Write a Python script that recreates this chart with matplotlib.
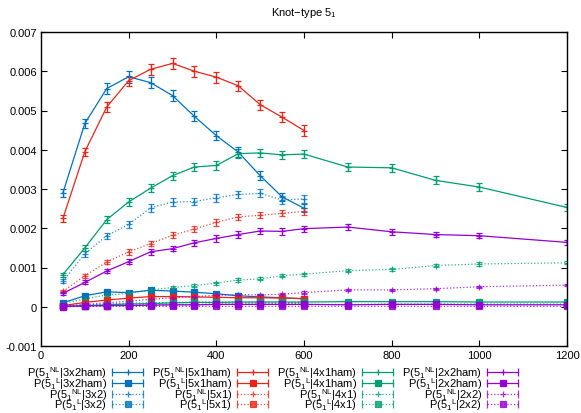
import numpy as np
import matplotlib
matplotlib.use("Agg")
import matplotlib.pyplot as plt

plt.rcParams['font.family'] = ['Liberation Sans', 'DejaVu Sans']
plt.rcParams['mathtext.fontset'] = 'custom'
plt.rcParams['mathtext.rm'] = 'Liberation Sans'
plt.rcParams['mathtext.default'] = 'regular'
plt.rcParams['font.size'] = 8

# chain lengths
n_short = [50, 100, 150, 200, 250, 300, 350, 400, 450, 500, 550, 600]
n_long = [50, 100, 150, 200, 250, 300, 350, 400, 450, 500, 550, 600,
          700, 800, 900, 1000, 1200]

# 3x2 confinement
p_nl_3x2ham = [0.0029, 0.00467, 0.00556, 0.00586, 0.00571, 0.00538,
               0.00485, 0.00436, 0.00394, 0.00334, 0.0028, 0.00251]
e_nl_3x2ham = [0.0001, 0.00012, 0.00013, 0.00015, 0.00014, 0.00013,
               0.00013, 0.00012, 0.00013, 0.00012, 0.00011, 0.0001]
p_l_3x2ham = [0.0001, 0.00028, 0.00038, 0.00036, 0.00042, 0.0004,
              0.00037, 0.00033, 0.00028, 0.00025, 0.00023, 0.0002]
e_l_3x2ham = [0.00002, 0.00003, 0.00003, 0.00003, 0.00003, 0.00003,
              0.00003, 0.00003, 0.00003, 0.00003, 0.00003, 0.00003]
p_nl_3x2 = [0.00065, 0.00135, 0.00181, 0.0021, 0.00252, 0.00267,
            0.00268, 0.00278, 0.00286, 0.00289, 0.00272, 0.00275]
e_nl_3x2 = [0.00005, 0.00007, 0.00008, 0.00009, 0.0001, 0.0001,
            0.0001, 0.0001, 0.0001, 0.0001, 0.0001, 0.0001]
p_l_3x2 = [0.00001, 0.00004, 0.00007, 0.00009, 0.0001, 0.00011,
           0.00012, 0.00012, 0.00012, 0.00012, 0.00012, 0.00011]
e_l_3x2 = [0.00001, 0.00001, 0.00002, 0.00002, 0.00002, 0.00002,
           0.00002, 0.00002, 0.00002, 0.00002, 0.00002, 0.00002]

# 5x1 confinement
p_nl_5x1ham = [0.00225, 0.00395, 0.00509, 0.00576, 0.00605, 0.0062,
               0.006, 0.00585, 0.00563, 0.00515, 0.00483, 0.00449]
e_nl_5x1ham = [0.00008, 0.0001, 0.00012, 0.00013, 0.00014, 0.00015,
               0.00014, 0.00014, 0.00013, 0.00013, 0.00013, 0.00013]
p_l_5x1ham = [0.00003, 0.00011, 0.00017, 0.00022, 0.00026, 0.00026,
              0.00025, 0.00024, 0.00023, 0.00023, 0.00022, 0.00021]
e_l_5x1ham = [0.00001, 0.00002, 0.00002, 0.00003, 0.00003, 0.00003,
              0.00003, 0.00003, 0.00003, 0.00003, 0.00003, 0.00003]
p_nl_5x1 = [0.00039, 0.00079, 0.00114, 0.0014, 0.00161, 0.00182,
            0.00198, 0.00215, 0.00229, 0.00233, 0.00238, 0.00243]
e_nl_5x1 = [0.00004, 0.00005, 0.00006, 0.00007, 0.00007, 0.00008,
            0.00008, 0.00008, 0.00008, 0.00008, 0.00008, 0.00008]
p_l_5x1 = [0.0, 0.00002, 0.00003, 0.00004, 0.00005, 0.00006,
           0.00006, 0.00007, 0.00007, 0.00007, 0.00008, 0.00008]
e_l_5x1 = [0.00001, 0.00001, 0.00001, 0.00001, 0.00001, 0.00001,
           0.00001, 0.00001, 0.00001, 0.00001, 0.00001, 0.00001]

# 4x1 confinement
p_nl_4x1ham = [0.00082, 0.0015, 0.00222, 0.00267, 0.00302, 0.00334,
               0.00356, 0.0036, 0.0039, 0.00392, 0.00387, 0.00389,
               0.00356, 0.00354, 0.00322, 0.00305, 0.00253]
e_nl_4x1ham = [0.00005, 0.00007, 0.00008, 0.0001, 0.0001, 0.0001,
               0.00011, 0.00011, 0.00012, 0.00011, 0.00011, 0.00011,
               0.0001, 0.0001, 0.0001, 0.0001, 0.0001]
p_l_4x1ham = [0.00001, 0.00003, 0.00005, 0.00007, 0.00008, 0.0001,
              0.00011, 0.00011, 0.00012, 0.00012, 0.00012, 0.00012,
              0.00013, 0.00013, 0.00013, 0.00012, 0.00012]
e_l_4x1ham = [0.00001, 0.00001, 0.00002, 0.00002, 0.00002, 0.00002,
              0.00002, 0.00002, 0.00002, 0.00002, 0.00002, 0.00002,
              0.00002, 0.00002, 0.00002, 0.00002, 0.00002]
p_nl_4x1 = [0.00008, 0.0002, 0.0003, 0.00034, 0.00043, 0.00049,
            0.00054, 0.0006, 0.00068, 0.00071, 0.00079, 0.00083,
            0.00092, 0.00095, 0.00105, 0.00109, 0.00112]
e_nl_4x1 = [0.00002, 0.00003, 0.00003, 0.00003, 0.00004, 0.00004,
            0.00004, 0.00004, 0.00004, 0.00004, 0.00004, 0.00004,
            0.00004, 0.00004, 0.00004, 0.00004, 0.00004]
p_l_4x1 = [0.00001, 0.00002, 0.00003, 0.00004, 0.00004, 0.00005,
           0.00005, 0.00006, 0.00006, 0.00006, 0.00006, 0.00006,
           0.00006, 0.00007, 0.00007, 0.00007, 0.00007]
e_l_4x1 = [0.00001, 0.00001, 0.00001, 0.00001, 0.00001, 0.00001,
           0.00001, 0.00001, 0.00001, 0.00001, 0.00001, 0.00001,
           0.00001, 0.00001, 0.00001, 0.00001, 0.00001]

# 2x2 confinement
p_nl_2x2ham = [0.00034, 0.00062, 0.00091, 0.00115, 0.0014, 0.00148,
               0.00163, 0.00174, 0.00184, 0.00193, 0.00192, 0.00199,
               0.00203, 0.00191, 0.00184, 0.00181, 0.00164]
e_nl_2x2ham = [0.00004, 0.00005, 0.00006, 0.00006, 0.00007, 0.00007,
               0.00007, 0.00008, 0.00008, 0.00008, 0.00008, 0.00008,
               0.00008, 0.00007, 0.00007, 0.00007, 0.00007]
p_l_2x2ham = [0.00001, 0.00002, 0.00003, 0.00003, 0.00004, 0.00005,
              0.00005, 0.00006, 0.00006, 0.00006, 0.00006, 0.00006,
              0.00005, 0.00006, 0.00006, 0.00005, 0.00005]
e_l_2x2ham = [0.00001, 0.00001, 0.00001, 0.00001, 0.00001, 0.00001,
              0.00001, 0.00001, 0.00001, 0.00001, 0.00001, 0.00001,
              0.00001, 0.00001, 0.00001, 0.00001, 0.00001]
p_nl_2x2 = [0.00003, 0.00006, 0.0001, 0.00014, 0.00019, 0.00023,
            0.00026, 0.00029, 0.00031, 0.0003, 0.00032, 0.00036,
            0.00043, 0.00043, 0.00046, 0.00051, 0.00055]
e_nl_2x2 = [0.00001, 0.00002, 0.00002, 0.00002, 0.00003, 0.00003,
            0.00003, 0.00003, 0.00003, 0.00003, 0.00003, 0.00003,
            0.00003, 0.00003, 0.00003, 0.00003, 0.00003]
p_l_2x2 = [0.0, 0.00001, 0.00001, 0.00001, 0.00001, 0.00001,
           0.00001, 0.00001, 0.00001, 0.00001, 0.00001, 0.00001,
           0.00001, 0.00001, 0.00001, 0.00001, 0.00001]
e_l_2x2 = [0.00001, 0.00001, 0.00001, 0.00001, 0.00001, 0.00001,
           0.00001, 0.00001, 0.00001, 0.00001, 0.00001, 0.00001,
           0.00001, 0.00001, 0.00001, 0.00001, 0.00001]

xticks = [0, 200, 400, 600, 800, 1000, 1200]
yticks = [-0.001, 0, 0.001, 0.002, 0.003, 0.004, 0.005, 0.006, 0.007]
ytick_labels = ['-0.001', '0', '0.001', '0.002', '0.003', '0.004',
                '0.005', '0.006', '0.007']

blue, red, green, purple = '#0072bd', '#e8251b', '#009e73', '#9400d3'

def lab(sup, box):
    return r'P(5$_{1}{}^{%s}$|%s)' % (sup, box)

# (x, y, err, colour, linestyle, marker, markersize, alpha, label)
series = [
    (n_short, p_nl_3x2ham, e_nl_3x2ham, blue, '-', '+', 5, 1.0, lab('NL', '3x2ham')),
    (n_short, p_l_3x2ham, e_l_3x2ham, blue, '-', 's', 4.5, 1.0, lab('L', '3x2ham')),
    (n_short, p_nl_3x2, e_nl_3x2, blue, ':', '+', 5, 0.8, lab('NL', '3x2')),
    (n_short, p_l_3x2, e_l_3x2, blue, ':', 's', 4.5, 0.8, lab('L', '3x2')),
    (n_short, p_nl_5x1ham, e_nl_5x1ham, red, '-', '+', 5, 1.0, lab('NL', '5x1ham')),
    (n_short, p_l_5x1ham, e_l_5x1ham, red, '-', 's', 4.5, 1.0, lab('L', '5x1ham')),
    (n_short, p_nl_5x1, e_nl_5x1, red, ':', '+', 5, 0.8, lab('NL', '5x1')),
    (n_short, p_l_5x1, e_l_5x1, red, ':', 's', 4.5, 0.8, lab('L', '5x1')),
    (n_long, p_nl_4x1ham, e_nl_4x1ham, green, '-', '+', 5, 1.0, lab('NL', '4x1ham')),
    (n_long, p_l_4x1ham, e_l_4x1ham, green, '-', 's', 4.5, 1.0, lab('L', '4x1ham')),
    (n_long, p_nl_4x1, e_nl_4x1, green, ':', '+', 5, 0.8, lab('NL', '4x1')),
    (n_long, p_l_4x1, e_l_4x1, green, ':', 's', 4.5, 0.8, lab('L', '4x1')),
    (n_long, p_nl_2x2ham, e_nl_2x2ham, purple, '-', '+', 5, 1.0, lab('NL', '2x2ham')),
    (n_long, p_l_2x2ham, e_l_2x2ham, purple, '-', 's', 4.5, 1.0, lab('L', '2x2ham')),
    (n_long, p_nl_2x2, e_nl_2x2, purple, ':', '+', 5, 0.8, lab('NL', '2x2')),
    (n_long, p_l_2x2, e_l_2x2, purple, ':', 's', 4.5, 0.8, lab('L', '2x2')),
]

fig = plt.figure(figsize=(5.81, 4.14), dpi=100)
ax = fig.add_axes([41 / 581, 1 - 347 / 414, 526 / 581, 314 / 414])

# key area below the plot, laid out in pixels like gnuplot's "key below"
kax = fig.add_axes([0, 0, 1, 1], zorder=-1)
kax.set_xlim(0, 581)
kax.set_ylim(414, 0)
kax.axis('off')
key_text_right = [107, 232, 357, 482]
key_sample = [(112, 143), (237, 268), (362, 393), (487, 518)]
key_rows = [373, 384, 395, 405.5]

for i, (x, y, err, c, ls, mk, ms, a, name) in enumerate(series):
    ax.errorbar(x, y, yerr=err, color=c, ls=ls, lw=0.9, marker=mk, ms=ms,
                mew=0.9, capsize=2.4, elinewidth=0.9, capthick=0.9, alpha=a)
    col, row = divmod(i, 4)
    ky = key_rows[row]
    x0, x1 = key_sample[col]
    kax.text(key_text_right[col], ky, name, ha='right', va='center',
             fontsize=8)
    kax.plot([x0, x1], [ky, ky], color=c, ls=ls, lw=0.9, alpha=a)
    kax.plot([x0, x1], [ky, ky], color=c, ls='none', marker='|', ms=6,
             mew=0.9, alpha=a)
    kax.plot([(x0 + x1) / 2], [ky], color=c, ls='none', marker=mk, ms=ms,
             mew=0.9, alpha=a)

ax.set_xlim(0, 1200)
ax.set_ylim(-0.001, 0.007)
ax.set_xticks(xticks)
ax.set_xticklabels([str(t) for t in xticks])
ax.set_yticks(yticks)
ax.set_yticklabels(ytick_labels)
ax.tick_params(direction='in', length=4.5, width=0.8, top=True, right=True,
               pad=3, labelsize=8)
for s in ax.spines.values():
    s.set_linewidth(1.0)

ax.set_title('Knot\u2212type 5$_1$', fontsize=8, pad=12)

fig.savefig('out.png', dpi=100)
